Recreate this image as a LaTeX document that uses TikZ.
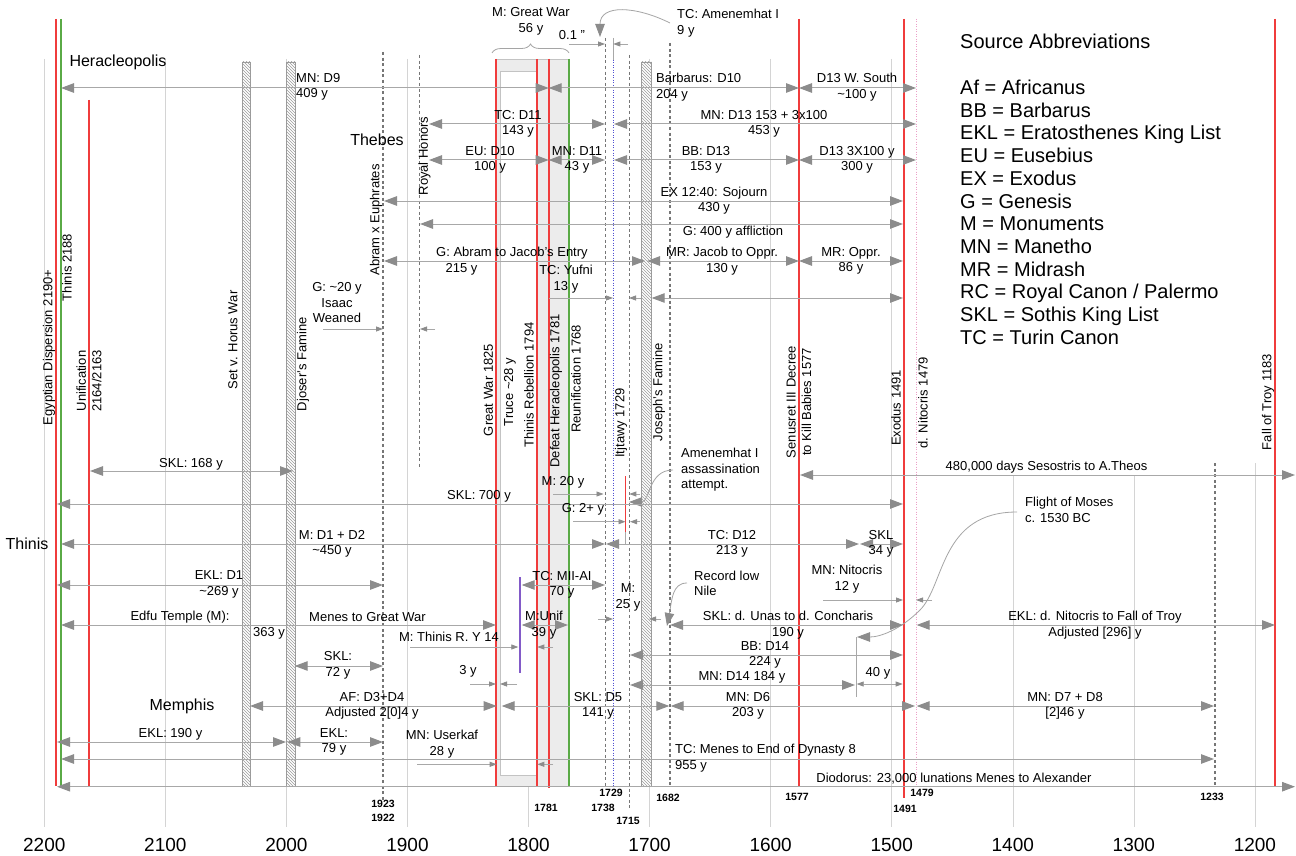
\documentclass[tikz,border=0pt]{standalone}
\usepackage{fontspec}
\setmainfont{Liberation Sans}
\usetikzlibrary{arrows.meta,patterns,decorations.pathreplacing}
\definecolor{gridc}{RGB}{212,212,212}
\definecolor{linec}{RGB}{168,168,168}
\definecolor{tipc}{RGB}{140,140,140}
\definecolor{redc}{RGB}{240,60,60}
\definecolor{greenc}{RGB}{90,170,70}
\definecolor{dashc}{RGB}{118,118,118}
\definecolor{hatchc}{RGB}{155,155,155}
\definecolor{regfill}{RGB}{236,236,236}
\definecolor{regdraw}{RGB}{195,195,195}
\definecolor{purc}{RGB}{130,90,200}
\definecolor{bluec}{RGB}{80,80,210}
\definecolor{pinkc}{RGB}{235,160,200}
\definecolor{curvec}{RGB}{165,165,165}
\tikzset{
  bigtip/.tip={Triangle[length=13pt,width=9.5pt,color=tipc]},
  smtip/.tip={Triangle[length=7pt,width=5pt,color=tipc]},
  dd/.style={draw=linec,line width=1pt,bigtip-bigtip},
  so/.style={draw=linec,line width=0.8pt,-smtip},
  ss/.style={draw=linec,line width=0.8pt,smtip-smtip},
  gridl/.style={draw=gridc,line width=0.8pt},
  dashl/.style={draw=dashc,line width=1.05pt,dash pattern=on 3pt off 2.6pt},
  redl/.style={draw=redc,line width=1.8pt},
  greenl/.style={draw=greenc,line width=1.8pt},
  callout/.style={draw=curvec,line width=0.8pt},
  lab/.style={font=\fontsize{13}{15.5}\selectfont,inner sep=0pt,align=center},
  rlab/.style={lab,rotate=90},
  reg/.style={font=\fontsize{16}{18}\selectfont,inner sep=0pt},
  axl/.style={font=\fontsize{19}{21}\selectfont,inner sep=0pt},
  yrl/.style={font=\fontsize{10.5}{12}\selectfont\bfseries,inner sep=0pt},
  leg/.style={font=\fontsize{20}{22}\selectfont,inner sep=0pt,anchor=base west}
}
\begin{document}
\begin{tikzpicture}[x=1pt,y=-1pt]
\useasboundingbox (0,0) rectangle (1296,856);
\fill[white] (0,0) rectangle (1296,856);

% grid lines
\foreach \k in {0,...,7} \draw[gridl] ({44.3+121.06*\k},59) -- ({44.3+121.06*\k},827);
\draw[gridl] (1012.9,475) -- (1012.9,827);
\draw[gridl] (1134,475) -- (1134,827);
\draw[gridl] (1255,463) -- (1255,827);

% great war region
\filldraw[fill=regfill,draw=regdraw,line width=0.8pt] (496,59) rectangle (569,786);
\filldraw[fill=white,draw=regdraw,line width=0.8pt] (500.7,71.7) rectangle (536.7,775);

% hatched bars
\foreach \a/\b in {242/250,286.3/295,641.3/651}{
  \filldraw[fill=white,draw=hatchc,line width=0.6pt] (\a,62) rectangle (\b,786);
  \fill[pattern=north west lines,pattern color=hatchc] (\a,62) rectangle (\b,786);
}

% dashed / dotted lines
\draw[dashl] (383,52) -- (383,800);
\draw[dashl] (419.5,55) -- (419.5,467);
\draw[dashl] (605.7,38) -- (605.7,786);
\draw[dashl] (629.3,55) -- (629.3,810);
\draw[dashl] (670,43) -- (670,786);
\draw[dashl] (1215,463) -- (1215,786);
\draw[draw=bluec,line width=0.7pt,dash pattern=on 1pt off 1.5pt] (613.3,60) -- (613.3,786);
\draw[draw=linec,line width=0.7pt] (613.3,38) -- (613.3,60);
\draw[draw=pinkc,line width=0.9pt,dash pattern=on 1pt off 1.5pt] (916,19) -- (916,786);

% event lines
\draw[redl] (56,19) -- (56,786);
\draw[greenl] (60.7,19) -- (60.7,786);
\draw[redl] (88.7,100) -- (88.7,786);
\draw[redl] (496.3,59) -- (496.3,786);
\draw[redl] (536.7,59) -- (536.7,786);
\draw[redl] (548.7,59) -- (548.7,788);
\draw[greenl] (569,59) -- (569,786);
\draw[redl] (799,19) -- (799,786);
\draw[redl] (904,19) -- (904,798);
\draw[redl] (1275,19) -- (1275,786);
\draw[redl,line width=1.4pt] (625.3,476) -- (625.3,532);
\draw[draw=linec,line width=0.8pt] (625.3,532) -- (625.3,545);
\draw[draw=purc,line width=1.4pt] (520,577) -- (520,673);
\draw[draw=linec,line width=0.8pt] (856,637) -- (856,697);

% brace
\draw[draw=curvec,line width=0.8pt,decorate,decoration={brace,amplitude=9pt}] (492,53) -- (569,53);

% callouts
\draw[callout,-bigtip] (670,23) .. controls (636,6) and (600,4) .. (600,37);
\draw[callout,-bigtip] (673,470) .. controls (648,470) and (650,502) .. (629,502);
\draw[callout,-bigtip] (687,583) .. controls (672,583) and (672,600) .. (667,626);
\draw[callout,-bigtip] (1017,512) .. controls (940,512) and (945,585) .. (920,610) .. controls (900,630) and (880,637) .. (857,637);

% big double arrows
\draw[dd] (61,88) -- (548.7,88);
\draw[dd] (548.7,88) -- (799,88);
\draw[dd] (799,88) -- (916,88);
\draw[dd] (429,124) -- (605,124);
\draw[dd] (614,124) -- (916,124);
\draw[dd] (429,160) -- (548.7,160);
\draw[dd] (548.7,160) -- (605,160);
\draw[dd] (614,160) -- (799,160);
\draw[dd] (799,160) -- (916,160);
\draw[dd] (384,201) -- (903,201);
\draw[dd] (420,224) -- (903,224);
\draw[dd] (384,261) -- (645,261);
\draw[dd] (647,261) -- (799,261);
\draw[dd] (799,261) -- (903,261);
\draw[dd] (651.7,298) -- (903,298);
\draw[dd] (90,471) -- (293,471);
\draw[dd] (800,475) -- (1295,475);
\draw[dd] (57,504) -- (903,504);
\draw[dd] (61,544) -- (605,544);
\draw[dd] (606,544) -- (859,544);
\draw[dd] (860,544) -- (903,544);
\draw[dd] (57,585) -- (383,585);
\draw[dd] (521.7,585) -- (605,585);
\draw[dd] (61,625) -- (496,625);
\draw[dd] (521.7,625) -- (568,625);
\draw[dd] (670,625) -- (903,625);
\draw[dd] (916.7,625) -- (1275,625);
\draw[dd] (630,655) -- (903,655);
\draw[dd] (294.7,666) -- (383,666);
\draw[dd] (630,685) -- (855,685);
\draw[dd] (250,706) -- (496.7,706);
\draw[dd] (501.7,706) -- (669.3,706);
\draw[dd] (670.7,706) -- (915,706);
\draw[dd] (916.7,706) -- (1214,706);
\draw[dd] (57,742) -- (286,742);
\draw[dd] (287.3,742) -- (383,742);
\draw[dd] (61,759) -- (1214,759);
\draw[dd] (57,786.7) -- (1295,786.7);

% small dimension arrows
\draw[so] (569,44) -- (605,44);   \draw[so] (628,44) -- (613.3,44);
\draw[so] (549,298) -- (613,298); \draw[so] (641,298) -- (629,298);
\draw[so] (323,329) -- (383,329); \draw[so] (435,329) -- (420,329);
\draw[so] (553,494) -- (603.5,494); \draw[so] (640,494) -- (629.3,494);
\draw[so] (573,521.7) -- (625.5,521.7); \draw[so] (640,521.7) -- (630,521.7);
\draw[so] (598,619) -- (613,619); \draw[so] (661,619) -- (649,619);
\draw[so] (823,600) -- (903,600); \draw[so] (932,600) -- (916,600);
\draw[so] (410,647) -- (518.3,647); \draw[so] (553,647) -- (537.3,647);
\draw[so] (470,684) -- (496,684); \draw[so] (517,684) -- (500,684);
\draw[so] (417,764.3) -- (496.7,764.3); \draw[so] (553,764.3) -- (537.3,764.3);
\draw[ss] (856.7,684) -- (902.7,684);

% region labels
\node[reg] (heracl) at (118,62) {Heracleopolis};
\node[reg] (thebes) at (377,140) {Thebes};
\node[reg] (thinis) at (27,544) {Thinis};
\node[reg] (memph) at (182,706) {Memphis};

% rotated labels
\node[rlab] (r1) at (49,347.5) {Egyptian Dispersion 2190+};
\node[rlab] (r2) at (67,267.5) {Thinis 2188};
\node[rlab] (r3) at (89,381) {Unification\\2164/2163};
\node[rlab] (r4) at (233,340) {Set v. Horus War};
\node[rlab] (r5) at (303,364) {Djoser's Famine};
\node[rlab] (r6) at (376,220) {Abram x Euphrates};
\node[rlab] (r7) at (424.5,156) {Royal Honors};
\node[rlab] (r8) at (488.5,390) {Great War 1825};
\node[rlab] (r9) at (510,392) {Truce \textasciitilde28 y};
\node[rlab] (r10) at (529,385) {Thinis Rebellion 1794};
\node[rlab] (r11) at (556,391) {Defeat Heracleopolis 1781};
\node[rlab] (r12) at (576,379) {Reunification 1768};
\node[rlab] (r13) at (621,423) {Itjtawy 1729};
\node[rlab] (r14) at (659,392) {Joseph's Famine};
\node[rlab] (r15) at (799,402) {Senusret III Decree\\to Kill Babies 1577};
\node[rlab] (r16) at (896,408) {Exodus 1491};
\node[rlab] (r17) at (923,403) {d. Nitocris 1479};
\node[rlab] (r18) at (1268,402) {Fall of Troy 1183};

% arrow labels
\node[lab,align=left,anchor=west] (l1) at (296,87) {MN: D9\\409 y};
\node[lab,align=left,anchor=west] (l2) at (656,87) {Barbarus: D10\\204 y};
\node[lab] (l3) at (857,87) {D13 W. South\\\textasciitilde100 y};
\node[lab] (l4) at (518,124) {TC: D11\\143 y};
\node[lab] (l5) at (764,124) {MN: D13 153 + 3x100\\453 y};
\node[lab] (l6) at (490,160) {EU: D10\\100 y};
\node[lab] (l7) at (577,160) {MN: D11\\43 y};
\node[lab] (l8) at (706,160) {BB: D13\\153 y};
\node[lab] (l9) at (857,160) {D13 3X100 y\\300 y};
\node[lab] (l10) at (714,200.5) {EX 12:40: Sojourn\\430 y};
\node[lab] (l11) at (733,232) {G: 400 y affliction};
\node[lab,align=left,anchor=west] (l12) at (436,261) {G: Abram to Jacob's Entry\\\hspace*{9.5pt}215 y};
\node[lab] (l13) at (722,261) {MR: Jacob to Oppr.\\130 y};
\node[lab] (l14) at (851,261) {MR: Oppr.\\86 y};
\node[lab] (l15) at (566,279) {TC: Yufni\\13 y};
\node[lab] (l16) at (572,35) {0.1 "};
\node[lab,align=left,anchor=west] (l17) at (677,23) {TC: Amenemhat I\\9 y};
\node[lab] (l18) at (531,21.5) {M: Great War\\56 y};
\node[lab] (l19) at (337,303) {G: \textasciitilde20 y\\Isaac\\Weaned};
\node[lab] (l20) at (191,464) {SKL: 168 y};
\node[lab] (l21) at (1046.5,467) {480,000 days Sesostris to A.Theos};
\node[lab] (l22) at (479,496) {SKL: 700 y};
\node[lab] (l23) at (563,482) {M: 20 y};
\node[lab,align=left,anchor=west] (l24) at (681,470) {Amenemhat I\\assassination\\attempt.};
\node[lab] (l25) at (583,509) {G: 2+ y};
\node[lab] (l26) at (332,544) {M: D1 + D2\\\textasciitilde450 y};
\node[lab] (l27) at (732,544) {TC: D12\\213 y};
\node[lab] (l28) at (881,544) {SKL\\34 y};
\node[lab,align=left,anchor=west] (l29) at (1025,510) {Flight of Moses\\c. 1530 BC};
\node[lab] (l30) at (219,584.5) {EKL: D1\\\textasciitilde269 y};
\node[lab] (l31) at (562,585) {TC: MII-AI\\70 y};
\node[lab] (l32) at (628,597.5) {M:\\25 y};
\node[lab,align=left,anchor=west] (l33) at (694,583.5) {Record low\\Nile};
\node[lab] (l34) at (847,579) {MN: Nitocris\\12 y};
\node[lab] (l35) at (180,617) {Edfu Temple (M):};
\node[lab] (l36) at (367.5,617) {Menes to Great War};
\node[lab] (l37) at (269,633) {363 y};
\node[lab] (l38) at (544,625) {M:Unif\\39 y};
\node[lab] (l39) at (788,625) {SKL: d. Unas to d. Concharis\\190 y};
\node[lab] (l40) at (1095,625) {EKL: d. Nitocris to Fall of Troy\\{}Adjusted [296] y};
\node[lab] (l41) at (449,637) {M: Thinis R. Y 14};
\node[lab] (l42) at (765,655) {BB: D14\\224 y};
\node[lab] (l43) at (338,665.5) {SKL:\\72 y};
\node[lab] (l44) at (468,671) {3 y};
\node[lab] (l45) at (878,673) {40 y};
\node[lab] (l46) at (742,677) {MN: D14 184 y};
\node[lab] (l47) at (372,706) {AF: D3+D4\\{}Adjusted 2[0]4 y};
\node[lab] (l48) at (598,706) {SKL: D5\\141 y};
\node[lab] (l49) at (748,706) {MN: D6\\203 y};
\node[lab] (l50) at (1065,706) {MN: D7 + D8\\{}[2]46 y};
\node[lab] (l51) at (170.5,734) {EKL: 190 y};
\node[lab] (l52) at (334,742) {EKL:\\79 y};
\node[lab] (l53) at (442,744) {MN: Userkaf\\28 y};
\node[lab,align=left,anchor=west] (l54) at (675,758) {TC: Menes to End of Dynasty 8\\955 y};
\node[lab] (l55) at (954,779) {Diodorus: 23,000 lunations Menes to Alexander};

% bold year labels
\node[yrl] (y1) at (383,804) {1923};
\node[yrl] (y2) at (383,817.5) {1922};
\node[yrl] (y3) at (546,808) {1781};
\node[yrl] (y4) at (611,793) {1729};
\node[yrl] (y5) at (603,808) {1738};
\node[yrl] (y6) at (628,821) {1715};
\node[yrl] (y7) at (668,797.5) {1682};
\node[yrl] (y8) at (797,797) {1577};
\node[yrl] (y9) at (905,809) {1491};
\node[yrl] (y10) at (922,793) {1479};
\node[yrl] (y11) at (1212,797) {1233};

% axis labels
\foreach \k/\t in {0/2200,1/2100,2/2000,3/1900,4/1800,5/1700,6/1600,7/1500,8/1400,9/1300,10/1200}
  \node[axl] (ax\k) at ({44.3+121.06*\k},845) {\t};

% legend
\node[font=\fontsize{20}{22}\selectfont,inner sep=0pt,anchor=base west] (legt) at (960,48.7) {Source Abbreviations};
\foreach \t [count=\i from 0] in {Af = Africanus,BB = Barbarus,EKL = Eratosthenes King List,EU = Eusebius,EX = Exodus,G = Genesis,M = Monuments,MN = Manetho,MR = Midrash,RC = Royal Canon / Palermo,SKL = Sothis King List,TC = Turin Canon}
  \node[leg] (leg\i) at (960,{94.5+22.7*\i}) {\t};
\end{tikzpicture}
\end{document}
